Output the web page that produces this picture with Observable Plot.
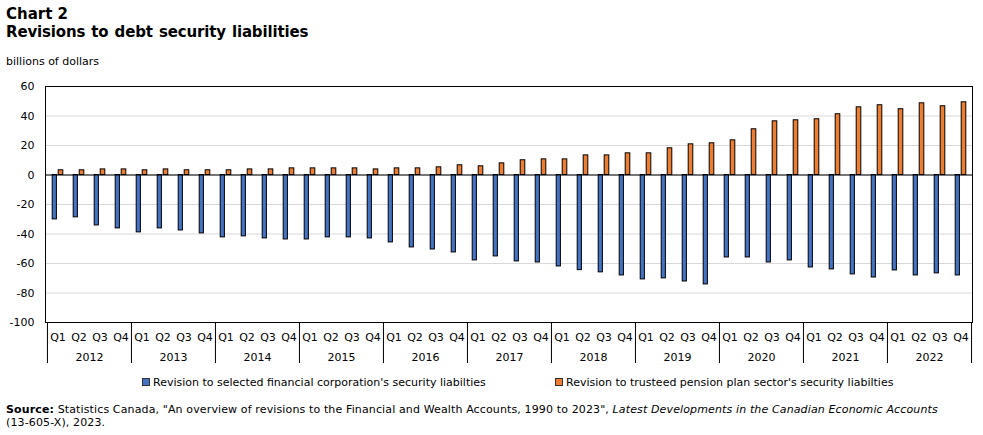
<!DOCTYPE html>
<html>
<head>
<meta charset="utf-8">
<script src="https://cdn.jsdelivr.net/npm/d3@7"></script>
<script src="https://cdn.jsdelivr.net/npm/@observablehq/plot@0.6"></script>
<style>
  body { margin: 0; background: #fff; font-family: Verdana, "DejaVu Sans", sans-serif; color: #000; }
  #wrap { position: relative; width: 983px; height: 435px; overflow: hidden; }
  .abs { position: absolute; white-space: nowrap; }
  .t1 { left: 6px; top: 7px; font-weight: bold; font-size: 15px; line-height: 15px; }
  .t2 { left: 6px; top: 25px; font-weight: bold; font-size: 15px; line-height: 15px; letter-spacing: -0.15px; word-spacing: 1px; }
  .unit { left: 6px; top: 56px; font-size: 11px; line-height: 11px; }
  #chart { position: absolute; left: 0; top: 75px; }
  .leg { top: 377px; font-size: 11px; line-height: 11px; }
  .sw { display: inline-block; width: 6px; height: 6px; border: 1px solid #333; margin-right: 3px; vertical-align: 0px; }
  .src { left: 6px; top: 403px; font-size: 11px; line-height: 13px; letter-spacing: 0.13px; }
</style>
</head>
<body>
<div id="wrap">
  <div class="abs t1">Chart 2</div>
  <div class="abs t2">Revisions to debt security liabilities</div>
  <div class="abs unit">billions of dollars</div>
  <div id="chart"></div>
  <div class="abs leg" style="left:142px"><span class="sw" style="background:#4472c4"></span>Revision to selected financial corporation's security liabilties</div>
  <div class="abs leg" style="left:555px"><span class="sw" style="background:#ed7d31"></span>Revision to trusteed pension plan sector's security liabilties</div>
  <div class="abs src"><b>Source:</b> Statistics Canada, "An overview of revisions to the Financial and Wealth Accounts, 1990 to 2023", <i>Latest Developments in the Canadian Economic Accounts</i><br>(13-605-X), 2023.</div>
</div>
<script>
const years = [2012, 2013, 2014, 2015, 2016, 2017, 2018, 2019, 2020, 2021, 2022];
const quarters = ["Q1", "Q2", "Q3", "Q4"];
const financial = [
  -30.1, -28.7, -34.2, -36.2,
  -38.9, -36.2, -37.6, -39.6,
  -42.3, -41.6, -43.0, -43.7,
  -43.7, -42.3, -42.3, -43.0,
  -45.7, -49.1, -50.5, -52.5,
  -57.9, -55.2, -58.6, -59.3,
  -62.0, -64.5, -66.0, -68.1,
  -70.8, -70.1, -72.2, -74.2,
  -55.9, -55.9, -59.3, -57.9,
  -62.7, -64.0, -67.4, -69.5,
  -64.7, -68.1, -66.7, -68.1
];
const pension = [
  3.2, 3.2, 3.8, 3.8,
  3.2, 3.8, 3.2, 3.2,
  3.2, 3.8, 3.8, 4.5,
  4.5, 4.5, 4.5, 3.8,
  4.5, 4.5, 5.2, 6.6,
  5.9, 7.9, 10.0, 10.6,
  10.6, 13.3, 13.3, 14.7,
  14.7, 18.1, 20.8, 21.5,
  23.5, 31.0, 36.4, 37.1,
  37.8, 41.2, 45.9, 47.3,
  44.6, 48.6, 46.6, 49.3
];
const yTicks = [-100, -80, -60, -40, -20, 0, 20, 40, 60];

const keys = years.flatMap(y => quarters.map(q => `${y} ${q}`));
const rows = keys.map((k, i) => ({key: k, financial: financial[i], pension: pension[i]}));

const W = 983, H = 290, mL = 45, mR = 11, mT = 11, mB = 43;
const bw = (W - mL - mR) / keys.length;
const plotH = H - mT - mB;

const chart = Plot.plot({
  width: W, height: H,
  marginLeft: mL, marginRight: mR, marginTop: mT, marginBottom: mB,
  style: {fontFamily: "Verdana, 'DejaVu Sans', sans-serif", fontSize: "11px", color: "#000", background: "#fff"},
  x: {type: "band", domain: keys, padding: 0, axis: null},
  y: {domain: [-100, 60], axis: null},
  marks: [
    Plot.gridY(yTicks, {stroke: "#d9d9d9", strokeOpacity: 1, strokeWidth: 1}),
    Plot.axisY(yTicks, {tickSize: 0, tickPadding: 11, label: null, fontSize: 11, tickFormat: d => String(d)}),
    Plot.barY(rows, {x: "key", y: "financial", fill: "#4472c4", stroke: "#000", strokeWidth: 1, insetLeft: 5.2, insetRight: 11.6}),
    Plot.barY(rows, {x: "key", y: "pension", fill: "#ed7d31", stroke: "#000", strokeWidth: 1, insetLeft: 11.2, insetRight: 5.2}),
    Plot.ruleY([0], {stroke: "#000"}),
    Plot.frame({stroke: "#000"}),
    Plot.axisX({tickSize: 0, tickPadding: 10.5, tickFormat: d => d.split(" ")[1], label: null, fontSize: 11}),
    Plot.text(years, {x: d => `${d} Q3`, text: d => String(d), frameAnchor: "bottom", lineAnchor: "top", dy: 30.5, dx: -bw / 2, fontSize: 11}),
    Plot.ruleX(years, {x: d => `${d} Q1`, dx: -bw / 2, stroke: "#000", insetTop: plotH, insetBottom: -41}),
    Plot.ruleX([years[years.length - 1]], {x: d => `${d} Q4`, dx: bw / 2, stroke: "#000", insetTop: plotH, insetBottom: -41})
  ]
});
document.getElementById("chart").appendChild(chart);
</script>
</body>
</html>
